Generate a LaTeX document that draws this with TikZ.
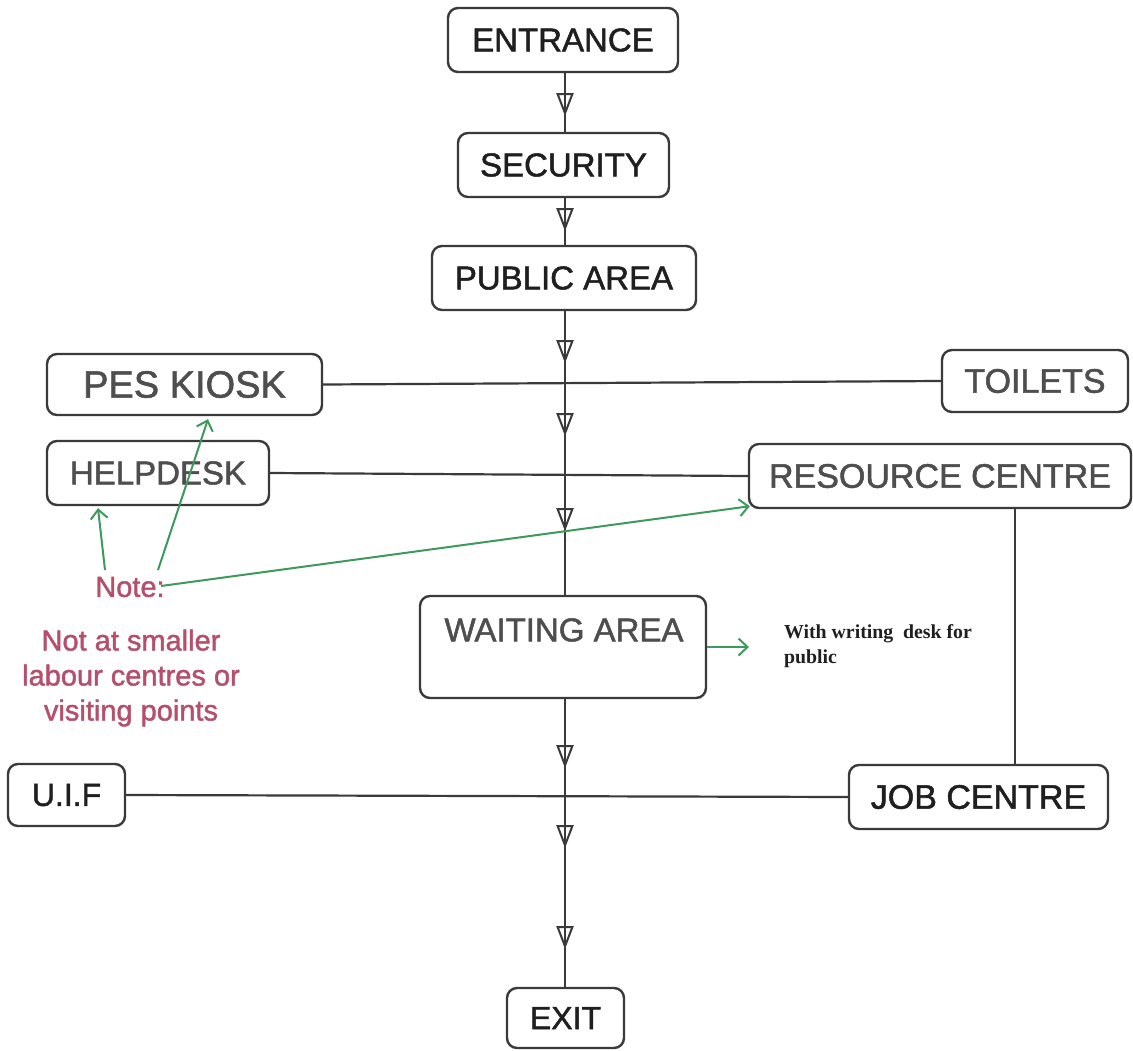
\documentclass[tikz,border=0pt]{standalone}
\usepackage{fontspec}
\setmainfont{Liberation Sans}[FakeBold=1.5]
\newfontfamily\deskfont{Liberation Serif}
\usetikzlibrary{arrows.meta,decorations.markings,calc}
\definecolor{ln}{HTML}{3A3A3A}
\definecolor{dk}{HTML}{1F1F1F}
\definecolor{gy}{HTML}{4E4E4E}
\definecolor{gn}{HTML}{3E9A5C}
\definecolor{pk}{HTML}{B4506C}
\def\flowtip{\arrow{Triangle[open,length=23pt,width=17pt,line width=2pt]}}
\tikzset{
  box/.style={draw=ln,line width=2.4pt,rounded corners=10pt,inner sep=0pt,fill=white},
  flow/.style={draw=ln,line width=2.4pt},
  link/.style={draw=ln,line width=2.2pt},
  note/.style={draw=gn,line width=2pt,-{Straight Barb[length=9pt,width=17pt]}},
}
\begin{document}
\begin{tikzpicture}[x=1pt,y=-1pt]
\useasboundingbox (0,0) rectangle (1133,1050);
\fill[white] (0,0) rectangle (1133,1050);

% boxes
\node[box,minimum width=230pt,minimum height=64pt,text=dk,font=\fontsize{33}{36}\selectfont] (entrance) at (563,40) {ENTRANCE};
\node[box,minimum width=211pt,minimum height=64pt,text=dk,font=\fontsize{33}{36}\selectfont] (security) at (563.5,165) {SECURITY};
\node[box,minimum width=264pt,minimum height=64pt,text=dk,font=\fontsize{33}{36}\selectfont] (public) at (564,278) {PUBLIC AREA};
\node[box,minimum width=275pt,minimum height=61pt,text=gy,font=\fontsize{38}{40}\selectfont] (pes) at (184.5,384.5) {PES KIOSK};
\node[box,minimum width=186pt,minimum height=62pt,text=gy,font=\fontsize{34}{36}\selectfont] (toilets) at (1035,381) {TOILETS};
\node[box,minimum width=222pt,minimum height=64pt,text=gy,font=\fontsize{33}{36}\selectfont] (helpdesk) at (158,473) {HELPDESK};
\node[box,minimum width=382pt,minimum height=64pt,text=gy,font=\fontsize{34}{36}\selectfont] (resource) at (940,476) {RESOURCE CENTRE};
\node[box,minimum width=286pt,minimum height=102pt] (waiting) at (563,647) {};
\node[inner sep=0pt,text=gy,font=\fontsize{33}{36}\selectfont] (waitingtxt) at (564,630) {WAITING AREA};
\node[box,minimum width=117pt,minimum height=62pt,text=dk,font=\fontsize{32}{36}\selectfont] (uif) at (66.5,795) {U.I.F};
\node[box,minimum width=259pt,minimum height=64pt,text=dk,font=\fontsize{34}{36}\selectfont] (job) at (978.5,797) {JOB CENTRE};
\node[box,minimum width=117pt,minimum height=60pt,text=dk,font=\fontsize{32}{36}\selectfont] (exit) at (565.5,1018) {EXIT};

% notes
\node[inner sep=0pt,text=pk,font=\fontsize{29}{35}\selectfont] (note) at (130,587) {Note:};
\node[inner sep=0pt,text=pk,align=center,font=\fontsize{29}{35}\selectfont] (notetxt) at (131,678) {Not at smaller\\labour centres or\\visiting points};
\node[inner sep=0pt,anchor=north west,align=left,text=dk,font=\deskfont\bfseries\fontsize{19.8}{25}\selectfont] (desk) at (784,624) {With writing\ \ desk for\\public};

% spine
\coordinate (spx) at (565,0);
\draw[flow,postaction={decorate},decoration={markings,mark=at position 43pt with {\flowtip}}]
  (entrance.south -| spx) -- (security.north -| spx);
\draw[flow,postaction={decorate},decoration={markings,mark=at position 33pt with {\flowtip}}]
  (security.south -| spx) -- (public.north -| spx);
\draw[flow,postaction={decorate},decoration={markings,
    mark=at position 52pt with {\flowtip},
    mark=at position 125pt with {\flowtip},
    mark=at position 220pt with {\flowtip}}]
  (public.south -| spx) -- (waiting.north -| spx);
\draw[flow,postaction={decorate},decoration={markings,
    mark=at position 69pt with {\flowtip},
    mark=at position 149pt with {\flowtip},
    mark=at position 250pt with {\flowtip}}]
  (waiting.south -| spx) -- (exit.north -| spx);

% side links
\draw[link] (pes.east) -- (toilets.west);
\draw[link] (helpdesk.east) -- (resource.west);
\draw[link] (uif.east) -- (job.west);
\coordinate (rjx) at (1015,0);
\draw[link] (resource.south -| rjx) -- (job.north -| rjx);

% green note arrows
\coordinate (n1) at (105,570);
\coordinate (n2) at (158,570);
\coordinate (n3) at (161,586);
\draw[note] (n1) -- ($(helpdesk.south)+(-60,2)$);
\draw[note] (n2) -- ($(pes.south)+(23.5,3)$);
\draw[note] (n3) -- ($(resource.south west)+(2,-3)$);
\coordinate (deskarr) at (749,647);
\draw[note] (waiting.east) -- (deskarr);
\end{tikzpicture}
\end{document}
